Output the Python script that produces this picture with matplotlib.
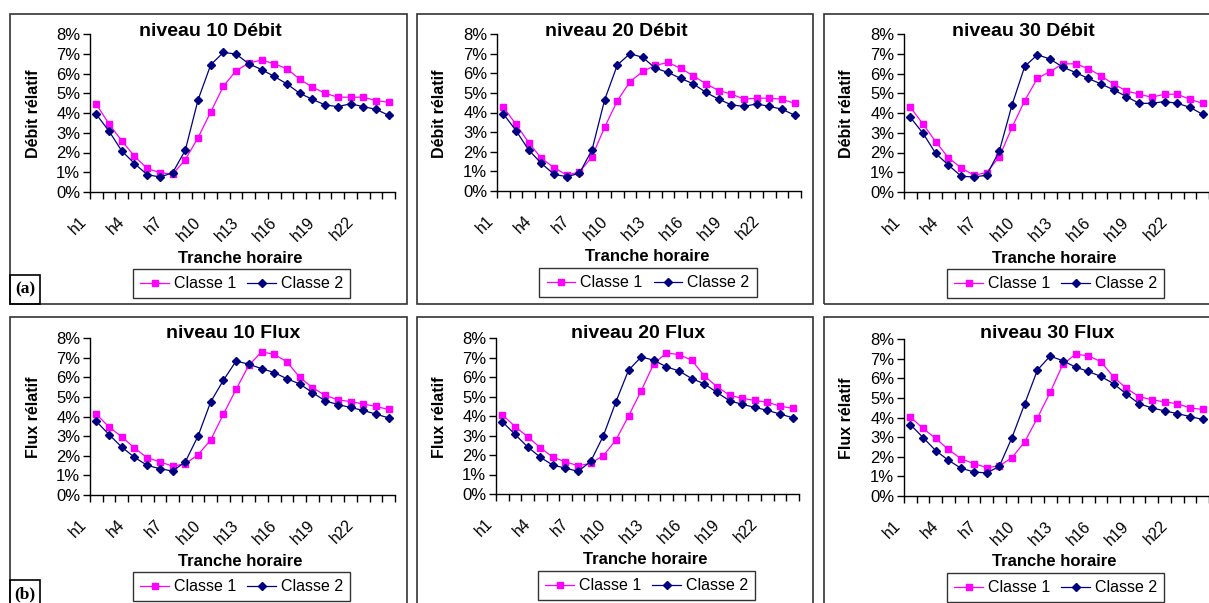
import matplotlib
matplotlib.use('Agg')
import matplotlib.pyplot as plt
import matplotlib.transforms as mtransforms
from matplotlib.patches import Rectangle
from matplotlib.ticker import PercentFormatter

plt.rcParams['font.family'] = ['Liberation Sans', 'DejaVu Sans']

hours = list(range(1, 25))
shown_hours = [1, 4, 7, 10, 13, 16, 19, 22]
shown_labels = ['h1', 'h4', 'h7', 'h10', 'h13', 'h16', 'h19', 'h22']
series_names = ['Classe 1', 'Classe 2']

# relative share per hour slice, in %
debit10_c1 = [4.44, 3.44, 2.59, 1.81, 1.19, 0.98, 0.90, 1.64, 2.75, 4.05, 5.36, 6.14,
              6.53, 6.68, 6.49, 6.24, 5.71, 5.31, 5.00, 4.80, 4.80, 4.80, 4.63, 4.54]
debit10_c2 = [3.93, 3.08, 2.08, 1.44, 0.88, 0.76, 0.97, 2.12, 4.66, 6.44, 7.07, 6.98,
              6.49, 6.20, 5.85, 5.47, 5.00, 4.69, 4.41, 4.32, 4.47, 4.32, 4.19, 3.88]
debit20_c1 = [4.27, 3.40, 2.47, 1.67, 1.19, 0.82, 0.95, 1.75, 3.25, 4.60, 5.57, 6.09,
              6.40, 6.55, 6.25, 5.87, 5.46, 5.12, 4.94, 4.68, 4.73, 4.73, 4.68, 4.46]
debit20_c2 = [3.93, 3.08, 2.09, 1.41, 0.85, 0.73, 0.90, 2.09, 4.65, 6.42, 7.00, 6.81,
              6.26, 6.04, 5.74, 5.46, 5.02, 4.68, 4.39, 4.31, 4.44, 4.31, 4.17, 3.86]
debit30_c1 = [4.29, 3.44, 2.54, 1.73, 1.22, 0.85, 0.98, 1.78, 3.27, 4.63, 5.76, 6.10,
              6.49, 6.49, 6.25, 5.88, 5.46, 5.12, 4.95, 4.80, 4.95, 4.95, 4.69, 4.49]
debit30_c2 = [3.78, 2.97, 1.95, 1.36, 0.80, 0.76, 0.85, 2.07, 4.41, 6.36, 6.95, 6.73,
              6.32, 6.05, 5.75, 5.47, 5.17, 4.83, 4.49, 4.49, 4.58, 4.49, 4.29, 3.93]
flux10_c1 = [4.12, 3.46, 2.97, 2.39, 1.90, 1.69, 1.47, 1.59, 2.05, 2.81, 4.12, 5.39,
             6.61, 7.29, 7.17, 6.78, 6.00, 5.47, 5.08, 4.85, 4.76, 4.64, 4.51, 4.36]
flux10_c2 = [3.75, 3.08, 2.44, 1.92, 1.51, 1.34, 1.22, 1.69, 3.00, 4.75, 5.85, 6.83,
             6.66, 6.44, 6.24, 5.92, 5.66, 5.22, 4.80, 4.61, 4.46, 4.31, 4.12, 3.93]
flux20_c1 = [4.07, 3.46, 2.94, 2.38, 1.89, 1.65, 1.45, 1.57, 1.97, 2.77, 4.00, 5.29,
             6.69, 7.23, 7.15, 6.86, 6.06, 5.50, 5.07, 4.90, 4.80, 4.70, 4.51, 4.39]
flux20_c2 = [3.71, 3.06, 2.42, 1.89, 1.48, 1.33, 1.16, 1.67, 2.98, 4.73, 6.35, 7.03,
             6.86, 6.52, 6.31, 5.92, 5.65, 5.21, 4.78, 4.60, 4.44, 4.29, 4.10, 3.91]
flux30_c1 = [4.03, 3.44, 2.93, 2.37, 1.89, 1.65, 1.45, 1.53, 1.96, 2.76, 3.98, 5.28,
             6.71, 7.22, 7.15, 6.84, 6.06, 5.48, 5.07, 4.90, 4.80, 4.70, 4.49, 4.41]
flux30_c2 = [3.64, 2.98, 2.31, 1.82, 1.41, 1.23, 1.17, 1.51, 2.98, 4.70, 6.42, 7.13,
             6.89, 6.57, 6.35, 6.09, 5.72, 5.19, 4.70, 4.49, 4.34, 4.20, 4.05, 3.90]

W, H = 1209, 603
fig = plt.figure(figsize=(W / 100, H / 100), dpi=100)

def fx(x): return x / W
def fy(y): return 1 - y / H

# (title, ylabel, c1, c2, box, axes[l, r, top, bottom], title_x, title_y)
panels = [
    ('niveau 10 Débit', 'Débit rélatif', debit10_c1, debit10_c2, (10, 14, 407, 304), (90, 395, 34, 192), 210, 32),
    ('niveau 20 Débit', 'Débit rélatif', debit20_c1, debit20_c2, (417, 14, 813, 304), (497, 801, 34, 191), 616, 32),
    ('niveau 30 Débit', 'Débit rélatif', debit30_c1, debit30_c2, (824, 14, 1222, 304), (904, 1209, 34, 192), 1023, 32),
    ('niveau 10 Flux', 'Flux rélatif', flux10_c1, flux10_c2, (10, 317, 407, 640), (90, 395, 338, 495), 233, 334),
    ('niveau 20 Flux', 'Flux rélatif', flux20_c1, flux20_c2, (417, 317, 813, 640), (496, 799, 338, 494), 638, 334),
    ('niveau 30 Flux', 'Flux rélatif', flux30_c1, flux30_c2, (824, 317, 1222, 640), (904, 1209, 339, 496), 1047, 334),
]

shift = mtransforms.ScaledTranslation(-7 / 100, 0, fig.dpi_scale_trans)

for title, ylab, c1, c2, box, axr, tx, ty in panels:
    bx0, by0, bx1, by1 = box
    fig.add_artist(Rectangle((fx(bx0), fy(by1)), (bx1 - bx0) / W, (by1 - by0) / H,
                             transform=fig.transFigure, fill=False,
                             edgecolor='#333333', lw=1.2))
    l, r, t, b = axr
    ax = fig.add_axes([fx(l), fy(b), (r - l) / W, (b - t) / H])
    ax.patch.set_alpha(0)
    h1, = ax.plot(hours, c1, color='#FF00FF', marker='s', ms=4.4, lw=0.9,
                  label=series_names[0], clip_on=False)
    h2, = ax.plot(hours, c2, color='#000080', marker='D', ms=3.8, lw=0.9,
                  label=series_names[1], clip_on=False)
    ax.set_xlim(0.5, 24.5)
    ax.set_ylim(0, 8)
    ax.yaxis.set_major_formatter(PercentFormatter(100, decimals=0))
    ax.set_yticks(range(0, 9))
    ax.set_xticks([i + 0.5 for i in range(0, 25)])
    ax.set_xticklabels([])
    ax.set_xticks(shown_hours, minor=True)
    ax.set_xticklabels(shown_labels, minor=True, rotation=45, ha='right', va='top',
                       fontsize=11.5)
    ax.tick_params(axis='both', which='major', direction='out', length=5,
                   width=1, color='black', labelsize=12, pad=2)
    ax.tick_params(axis='x', which='minor', length=0, pad=16)
    for lbl in ax.get_xticklabels(minor=True):
        lbl.set_transform(lbl.get_transform() + shift)
    for s in ['top', 'right']:
        ax.spines[s].set_visible(False)
    for s in ['left', 'bottom']:
        ax.spines[s].set_linewidth(1)
    fig.text(fx(tx), fy(ty), title, ha='center', va='center', fontsize=14,
             fontweight='bold')
    fig.text(fx(l - 57), fy((t + b) / 2 + 1), ylab, rotation=90, ha='center',
             va='center', fontsize=11.5, fontweight='bold')
    fig.text(fx((l + r) / 2 - 2), fy(b + 66), 'Tranche horaire', ha='center',
             va='center', fontsize=12, fontweight='bold')
    leg = fig.legend(handles=[h1, h2], ncol=2, loc='upper center',
                     bbox_to_anchor=(fx((l + r) / 2 - 1), fy(b + 77)),
                     bbox_transform=fig.transFigure, frameon=True, fancybox=False,
                     edgecolor='black', fontsize=11.5, handlelength=1.8,
                     handletextpad=0.3, columnspacing=0.7, borderpad=0.45,
                     borderaxespad=0)
    leg.get_frame().set_linewidth(1)

for lab, y0, y1 in [('(a)', 275, 304), ('(b)', 580, 640)]:
    fig.add_artist(Rectangle((fx(10), fy(y1)), 30 / W, (y1 - y0) / H,
                             transform=fig.transFigure, fill=False,
                             edgecolor='black', lw=1.2))
    fig.text(fx(25), fy(y0 + 14), lab, ha='center', va='center', fontsize=12.5,
             fontweight='bold', family=['Liberation Serif', 'DejaVu Serif'])

fig.savefig('out.png', dpi=100)
